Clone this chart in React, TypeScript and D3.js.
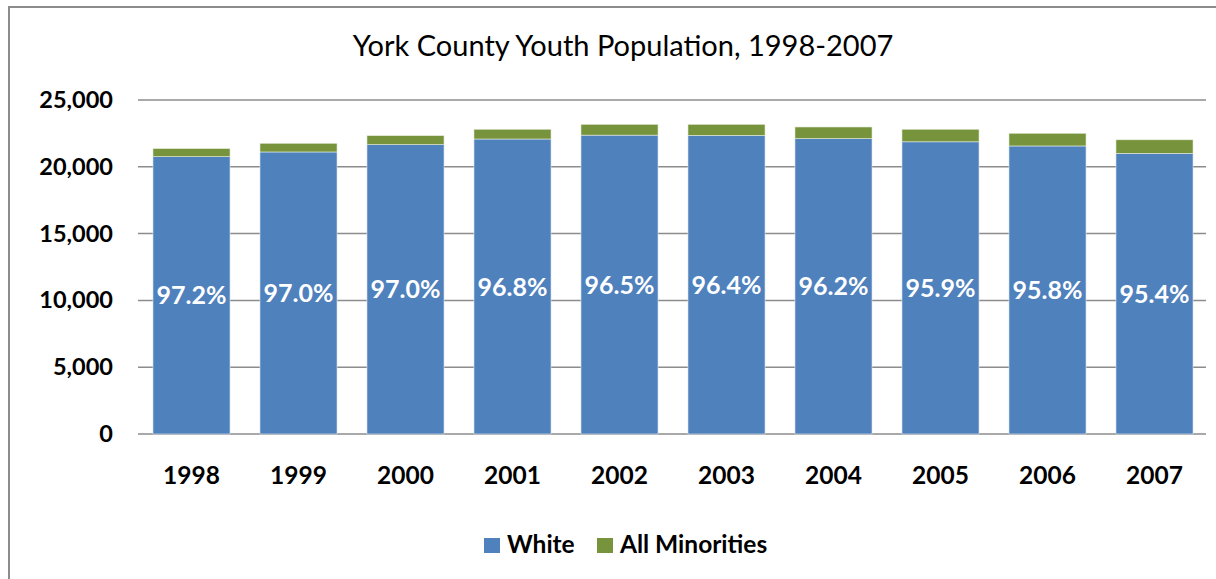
import { useEffect, useRef } from 'react';
import * as d3 from 'd3';

const years = ['1998', '1999', '2000', '2001', '2002', '2003', '2004', '2005', '2006', '2007'];
const white = [20760, 21110, 21660, 22080, 22370, 22350, 22110, 21870, 21560, 21010];
const minorities = [600, 650, 670, 730, 810, 830, 870, 940, 950, 1010];
const whitePct = ['97.2%', '97.0%', '97.0%', '96.8%', '96.5%', '96.4%', '96.2%', '95.9%', '95.8%', '95.4%'];
const yTicks = [0, 5000, 10000, 15000, 20000, 25000];

const BLUE = '#4F81BD';
const GREEN = '#77933C';
const FONT = 'Lato, "Open Sans", sans-serif';

export default function App() {
  const ref = useRef<SVGSVGElement>(null);

  useEffect(() => {
    if (!ref.current) return;
    const svg = d3.select(ref.current);
    svg.selectAll('*').remove();

    const x = d3.scaleBand<string>().domain(years).range([138, 1208]).paddingInner(0.28).paddingOuter(0.14);
    const y = d3.scaleLinear().domain([0, 25000]).range([434, 100]);

    // chart frame
    svg.append('rect')
      .attr('x', 9).attr('y', 7).attr('width', 1240).attr('height', 620)
      .attr('fill', 'white').attr('stroke', '#8c8c8c').attr('stroke-width', 2);

    // title
    svg.append('text')
      .attr('x', 623).attr('y', 56)
      .attr('text-anchor', 'middle')
      .attr('font-family', FONT).attr('font-size', 29)
      .attr('fill', '#000')
      .text('York County Youth Population, 1998-2007');

    // gridlines
    svg.append('g').selectAll('line')
      .data(yTicks)
      .join('line')
      .attr('x1', 138).attr('x2', 1206)
      .attr('y1', d => y(d)).attr('y2', d => y(d))
      .attr('stroke', '#8c8c8c').attr('stroke-width', 1.5);

    // y labels
    svg.append('g').selectAll('text')
      .data(yTicks)
      .join('text')
      .attr('x', 113).attr('y', d => y(d) + 8)
      .attr('text-anchor', 'end')
      .attr('font-family', FONT).attr('font-weight', 700).attr('font-size', 23.5)
      .text(d => d3.format(',')(d));

    const rows = years.map((yr, i) => ({ yr, w: white[i], m: minorities[i], pct: whitePct[i] }));

    const bars = svg.append('g');
    bars.selectAll('rect.w')
      .data(rows)
      .join('rect')
      .attr('class', 'w')
      .attr('x', d => x(d.yr)!)
      .attr('width', x.bandwidth())
      .attr('y', d => y(d.w))
      .attr('height', d => y(0) - y(d.w))
      .attr('fill', BLUE)
      .attr('stroke', '#dfe8f3').attr('stroke-width', 0.6);

    bars.selectAll('rect.m')
      .data(rows)
      .join('rect')
      .attr('class', 'm')
      .attr('x', d => x(d.yr)!)
      .attr('width', x.bandwidth())
      .attr('y', d => y(d.w + d.m))
      .attr('height', d => y(d.w) - y(d.w + d.m))
      .attr('fill', GREEN)
      .attr('stroke', '#e6ecdc').attr('stroke-width', 0.6);

    // data labels
    svg.append('g').selectAll('text')
      .data(rows)
      .join('text')
      .attr('x', d => x(d.yr)! + x.bandwidth() / 2)
      .attr('y', d => (y(0) + y(d.w)) / 2 + 9)
      .attr('text-anchor', 'middle')
      .attr('font-family', FONT).attr('font-weight', 700).attr('font-size', 25)
      .attr('fill', 'white')
      .text(d => d.pct);

    // x labels
    svg.append('g').selectAll('text')
      .data(years)
      .join('text')
      .attr('x', d => x(d)! + x.bandwidth() / 2)
      .attr('y', 484)
      .attr('text-anchor', 'middle')
      .attr('font-family', FONT).attr('font-weight', 700).attr('font-size', 24.5)
      .text(d => d);

    // legend
    const legend = [
      { label: 'White', color: BLUE, x: 484 },
      { label: 'All Minorities', color: GREEN, x: 597 },
    ];
    const lg = svg.append('g').selectAll('g').data(legend).join('g')
      .attr('transform', d => `translate(${d.x},538)`);
    lg.append('rect').attr('width', 16).attr('height', 15).attr('fill', d => d.color);
    lg.append('text')
      .attr('x', 23).attr('y', 15)
      .attr('font-family', FONT).attr('font-weight', 700).attr('font-size', 24.5)
      .text(d => d.label);
  }, []);

  return (
    <div style={{ position: 'fixed', left: 0, top: 0 }}>
      <svg ref={ref} width={1216} height={579} style={{ display: 'block' }} />
    </div>
  );
}
